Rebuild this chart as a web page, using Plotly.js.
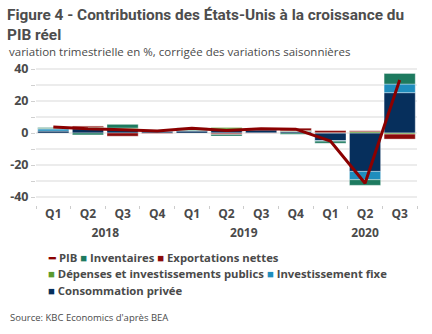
<!DOCTYPE html>
<html>
<head>
<meta charset="utf-8">
<script src="https://cdn.plot.ly/plotly-3.0.1.min.js"></script>
<style>html,body{margin:0;padding:0;background:#fff;}#chart{width:432px;height:334px;}</style>
</head>
<body>
<div id="chart"></div>
<script>
// ---- data ----
var years = ['2018','2018','2018','2018','2019','2019','2019','2019','2020','2020','2020'];
var quarters = ['Q1','Q2','Q3','Q4','Q1','Q2','Q3','Q4','Q1','Q2','Q3'];
var consommation = [1.2, 2.7, 2.4, 1.0, 1.2, 2.5, 1.9, 1.1, -4.8, -24.0, 25.2];
var investissementFixe = [1.3, 0.7, 0.2, 0.5, 0.5, -0.2, 0.2, 0.0, -0.3, -5.2, 5.4];
var depensesPubliques = [0.3, 0.4, 0.5, 0.2, 0.5, 0.9, 0.4, 0.4, 0.2, 0.8, -0.7];
var exportationsNettes = [0.0, 0.6, -2.0, -0.3, 0.6, -0.7, -0.1, 1.5, 1.3, 0.6, -3.1];
var inventaires = [0.6, -1.2, 2.3, 0.1, 0.4, -1.0, 0.0, -0.8, -1.3, -3.5, 6.6];
var pib = [3.8, 2.7, 2.1, 1.3, 2.9, 1.5, 2.6, 2.4, -5.0, -31.4, 33.1];
var yTickVals = [-40, -30, -20, -10, 0, 10, 20, 30, 40];
var yTickText = ['-40', '', '-20', '', '0', '', '20', '', '40'];

var names = ['Consommation privée', 'Investissement fixe', 'Dépenses et investissements publics', 'Exportations nettes', 'Inventaires', 'PIB'];
var colors = ['#062f5c', '#1f8dbd', '#5a9a2e', '#8b0a0a', '#1d7a5f', '#8b0000'];
var barSeries = [consommation, investissementFixe, depensesPubliques, exportationsNettes, inventaires];

// ---- geometry helpers (pixels -> paper) ----
var W = 432, H = 334, mL = 36, mR = 15, mT = 61, mB = 129;
var pw = W - mL - mR, ph = H - mT - mB;
function px(x) { return (x - mL) / pw; }
function py(y) { return (H - mB - y) / ph; }

var traces = [];
barSeries.forEach(function (vals, i) {
  traces.push({
    type: 'bar', x: [years, quarters], y: vals, name: names[i],
    marker: { color: colors[i], line: { color: 'rgba(255,255,255,0.6)', width: 0.6 } },
    showlegend: false, hoverinfo: 'skip'
  });
});
traces.push({
  type: 'scatter', mode: 'lines', x: [years, quarters], y: pib, name: names[5],
  line: { color: colors[5], width: 3 }, showlegend: false
});

var FONT = 'Open Sans, Noto Sans, sans-serif';
var TFONT = 'Roboto, Lato, sans-serif';
var TXT = '#4a4a4a';
function item(i, sym) {
  return '<span style="color:' + colors[i] + '">' + sym + '</span> ' + names[i];
}
var legendRows = [
  [item(5, '━'), item(4, '■'), item(3, '■')],
  [item(2, '■'), item(1, '■')],
  [item(0, '■')]
];
var legendY = [257, 273, 290];

var annotations = [
  { text: 'variation trimestrielle en %, corrigée des variations saisonnières',
    xref: 'paper', yref: 'paper', x: px(7), y: py(51), xanchor: 'left', yanchor: 'middle',
    showarrow: false, font: { family: FONT, size: 11.5, color: TXT } },
  { text: 'Source: KBC Economics d\'après BEA',
    xref: 'paper', yref: 'paper', x: px(8), y: py(317), xanchor: 'left', yanchor: 'middle',
    showarrow: false, font: { family: FONT, size: 9.5, color: TXT } }
];
legendRows.forEach(function (row, r) {
  annotations.push({
    text: row.join(' '), xref: 'paper', yref: 'paper', x: px(46), y: py(legendY[r]),
    xanchor: 'left', yanchor: 'middle', showarrow: false,
    font: { family: FONT, size: 11.3, color: TXT, weight: 'bold' }
  });
});

var layout = {
  width: W, height: H,
  margin: { l: mL, r: mR, t: mT, b: mB },
  paper_bgcolor: '#fff', plot_bgcolor: '#fff',
  font: { family: FONT, color: TXT },
  title: {
    text: 'Figure 4 - Contributions des États-Unis à la croissance du<br>PIB réel',
    xref: 'container', yref: 'container', x: 7 / W, y: 1 - 20 / H, xanchor: 'left', yanchor: 'top',
    font: { family: TFONT, size: 15.4, color: '#4d4d4d', weight: 'bold' }
  },
  barmode: 'relative', bargap: 0.1,
  xaxis: {
    type: 'multicategory', showdividers: false, showgrid: false, zeroline: false,
    ticks: 'outside', ticklen: 3, tickcolor: '#cccccc', showline: false,
    tickfont: { family: FONT, size: 12, color: TXT, weight: 'bold' }
  },
  yaxis: {
    range: [-45, 45], tickvals: yTickVals, ticktext: yTickText,
    showgrid: true, gridcolor: '#ececec', gridwidth: 1.5, zeroline: false,
    ticks: 'outside', ticklen: 4, tickcolor: '#d0d0d0',
    tickfont: { family: FONT, size: 12.5, color: TXT, weight: 'bold' }
  },
  annotations: annotations
};

Plotly.newPlot('chart', traces, layout, { displayModeBar: false, staticPlot: true });
</script>
</body>
</html>
